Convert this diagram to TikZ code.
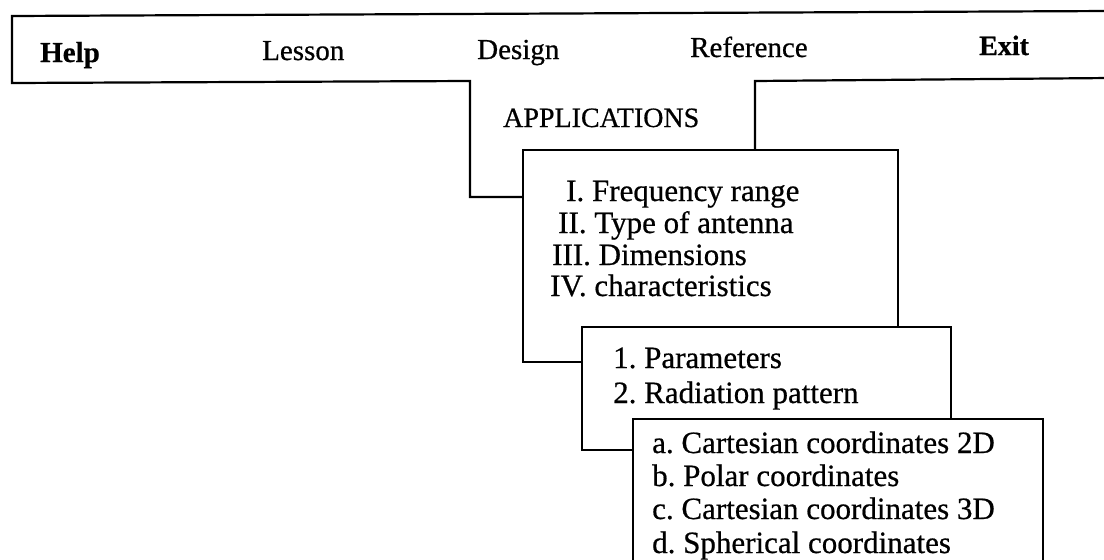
\documentclass[tikz,border=0pt]{standalone}
\usepackage{fontspec}
\setmainfont{Liberation Serif}[FakeBold=0.6]
\frenchspacing
\begin{document}
\begin{tikzpicture}[x=1pt,y=-1pt,
  frame/.style={line width=2.2pt, line join=miter},
  menuitem/.style={anchor=base west, inner sep=0pt, font=\fontsize{29}{34}\selectfont},
  headitem/.style={anchor=base west, inner sep=0pt, font=\fontsize{28}{34}\selectfont},
  entry/.style={anchor=base west, inner sep=0pt, font=\fontsize{31}{36}\selectfont}]
\useasboundingbox (0,0) rectangle (1104,560);
\clip (0,0) rectangle (1104,560);

% menu bar corners
\coordinate (barTR) at (1110,11);
\coordinate (barTL) at (12,16);
\coordinate (barBL) at (12,83);
\coordinate (barBR) at (1110,78);
% drop-down of the Design menu
\coordinate (dropTL) at (470,81);
\coordinate (dropBL) at (470,197);
\coordinate (dropTR) at (755,81);
% cascaded panels
\coordinate (p1TL) at (523,150);
\coordinate (p1TR) at (898,150);
\coordinate (p1BL) at (523,362);
\coordinate (p2TL) at (582,327);
\coordinate (p2TR) at (951,327);
\coordinate (p2BL) at (582,450);
\coordinate (p3TL) at (633,419);
\coordinate (p3TR) at (1043,419);
\coordinate (p3BL) at (633,575);
\coordinate (p3BR) at (1043,575);

% outlines
\draw[frame] (barTR) -- (barTL) -- (barBL) -- (dropTL) -- (dropBL) -- (dropBL -| p1TL);
\draw[frame] (barBR) -- (dropTR) -- (dropTR |- p1TL);
\draw[frame] (p1BL -| p2TL) -- (p1BL) -- (p1TL) -- (p1TR) -- (p1TR |- p2TL);
\draw[frame] (p2BL -| p3TL) -- (p2BL) -- (p2TL) -- (p2TR) -- (p2TR |- p3TL);
\draw[frame] (p3BL) -- (p3TL) -- (p3TR) -- (p3BR);

% menu bar
\node[menuitem, font=\fontsize{29}{34}\selectfont\bfseries] (help) at (40,62) {Help};
\node[menuitem] (lesson) at (262,60) {Lesson};
\node[menuitem] (design) at (477,59) {Design};
\node[menuitem] (reference) at (690,57) {Reference};
\node[menuitem, font=\fontsize{28}{34}\selectfont\bfseries] (exit) at (979,55) {Exit};

\node[headitem] (apps) at (503,127) {APPLICATIONS};

% first panel
\node[entry] (e1) at (566,201) {I. Frequency range};
\node[entry] (e2) at (558,233) {II. Type of antenna};
\node[entry] (e3) at (552,265) {III. Dimensions};
\node[entry] (e4) at (550,296) {IV. characteristics};

% second panel
\node[entry] (c1) at (613,368) {1. Parameters};
\node[entry] (c2) at (613,403) {2. Radiation pattern};

% third panel
\node[entry] (r1) at (652,453) {a. Cartesian coordinates 2D};
\node[entry] (r2) at (652,486) {b. Polar coordinates};
\node[entry] (r3) at (652,519) {c. Cartesian coordinates 3D};
\node[entry] (r4) at (652,553) {d. Spherical coordinates};
\end{tikzpicture}
\end{document}
